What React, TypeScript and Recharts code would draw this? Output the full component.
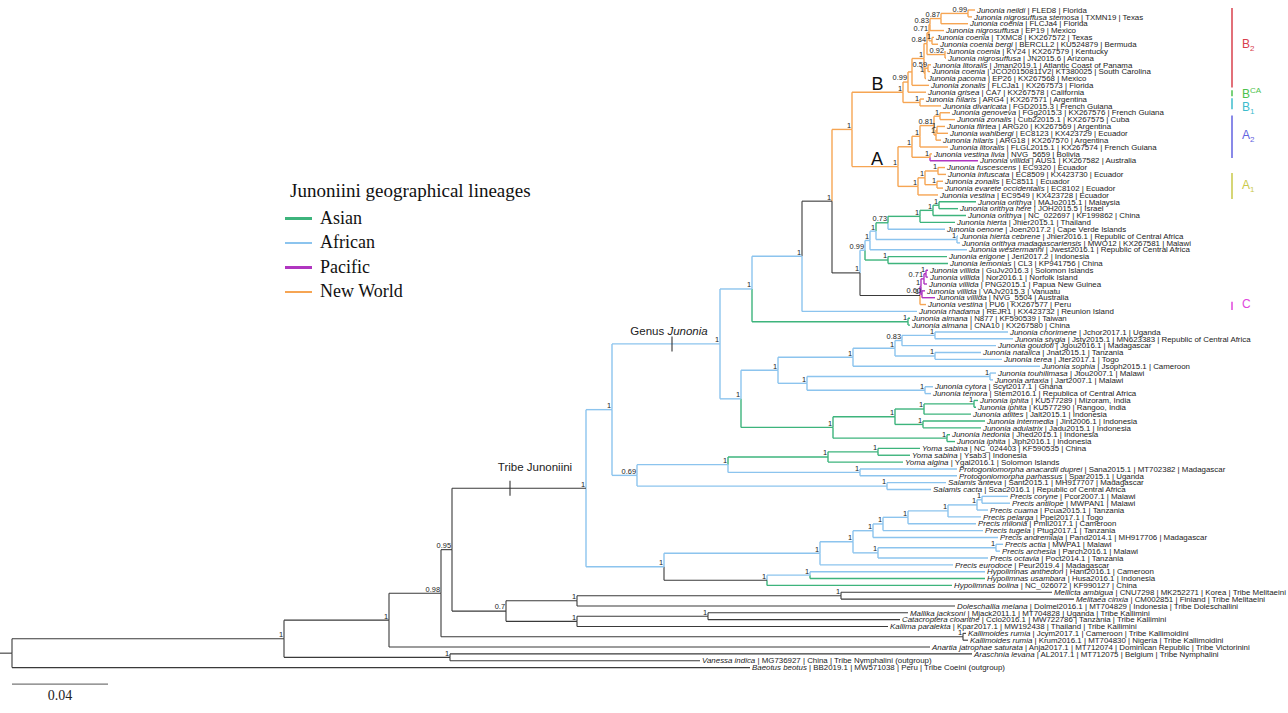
import React from "react";
import { ComposedChart, XAxis, YAxis, Scatter, ReferenceLine } from "recharts";

// tips, top to bottom
const tipSpecies = [
  "Junonia neildi", "Junonia nigrosuffusa stemosa", "Junonia coenia", "Junonia nigrosuffusa",
  "Junonia coenia", "Junonia coenia bergi", "Junonia coenia", "Junonia nigrosuffusa",
  "Junonia litoralis", "Junonia coenia", "Junonia pacoma", "Junonia zonalis",
  "Junonia grisea", "Junonia hilaris", "Junonia divaricata", "Junonia genoveva",
  "Junonia zonalis", "Junonia flirtea", "Junonia wahlbergi", "Junonia hilaris",
  "Junonia litoralis", "Junonia vestina livia", "Junonia villida", "Junonia fuscescens",
  "Junonia infuscata", "Junonia zonalis", "Junonia evarete occidentalis", "Junonia vestina",
  "Junonia orithya", "Junonia orithya here", "Junonia orithya", "Junonia hierta",
  "Junonia oenone", "Junonia hierta cebrene", "Junonia orithya madagascariensis", "Junonia westermanni",
  "Junonia erigone", "Junonia lemonias", "Junonia villida", "Junonia villida",
  "Junonia villida", "Junonia villida", "Junonia villida", "Junonia vestina",
  "Junonia rhadama", "Junonia almana", "Junonia almana", "Junonia chorimene",
  "Junonia stygia", "Junonia goudoti", "Junonia natalica", "Junonia terea",
  "Junonia sophia", "Junonia touhilimasa", "Junonia artaxia", "Junonia cytora",
  "Junonia temora", "Junonia iphita", "Junonia iphita", "Junonia atlites",
  "Junonia intermedia", "Junonia adulatrix", "Junonia hedonia", "Junonia iphita",
  "Yoma sabina", "Yoma sabina", "Yoma algina", "Protogoniomorpha anacardii duprei",
  "Protogoniomorpha parhassus", "Salamis anteva", "Salamis cacta", "Precis coryne",
  "Precis antilope", "Precis cuama", "Precis pelarga", "Precis milonia",
  "Precis tugela", "Precis andremiaja", "Precis actia", "Precis archesia",
  "Precis octavia", "Precis eurodoce", "Hypolimnas anthedon", "Hypolimnas usambara",
  "Hypolimnas bolina", "Mellicta ambigua", "Melitaea cinxia", "Doleschallia melana",
  "Mallika jacksoni", "Catacroptera cloanthe", "Kallima paralekta", "Kallimoides rumia",
  "Kallimoides rumia", "Anartia jatrophae saturata", "Araschnia levana", "Vanessa indica",
  "Baeotus beotus",
];

const tipInfo = [
  "FLED8 | Florida", "TXMN19 | Texas", "FLCJa4 | Florida", "EP19 | Mexico",
  "TXMC8 | KX267572 | Texas", "BERCLL2 | KU524879 | Bermuda", "KY24 | KX267579 | Kentucky", "JN2015.6 | Arizona",
  "Jman2019.1 | Atlantic Coast of Panama", "JCO20150811V2| KT380025 | South Carolina", "EP26 | KX267568 | Mexico", "FLCJa1 | KX267573 | Florida",
  "CA7 | KX267578 | California", "ARG4 | KX267571 | Argentina", "FGD2015.3 | French Guiana", "FGg2015.3 | KX267576 | French Guiana",
  "Cub22015.1 | KX267575 | Cuba", "ARG20 | KX267569 | Argentina", "EC8123 | KX423729 | Ecuador", "ARG18 | KX267570 | Argentina",
  "FLGL2015.1 | KX267574 | French Guiana", "NVG_5659 | Bolivia", "AUS1 | KX267582 | Australia", "EC9320 | Ecuador",
  "EC8509 | KX423730 | Ecuador", "EC8511 | Ecuador", "EC8102 | Ecuador", "EC9549 | KX423728 | Ecuador",
  "MAJo2015.1 | Malaysia", "JOH2015.5 | Israel", "NC_022697 | KF199862 | China", "Jhier2015.1 | Thailand",
  "Joen2017.2 | Cape Verde Islands", "Jhier2016.1 | Republic of Central Africa", "MWO12 | KX267581 | Malawi", "Jwest2016.1 | Republic of Central Africa",
  "Jeri2017.2 | Indonesia", "CL3 | KP941756 | China", "GuJv2016.3 | Solomon Islands", "Nor2016.1 | Norfolk Island",
  "PNG2015.1 | Papua New Guinea", "VAJv2015.3 | Vanuatu", "NVG_5504 | Australia", "PU6 | KX267577 | Peru",
  "REJR1 | KX423732 | Reunion Island", "N877 | KF590539 | Taiwan", "CNA10 | KX267580 | China", "Jchor2017.1 | Uganda",
  "Jsty2015.1 | MN623383 | Republic of Central Africa", "Jgou2016.1 | Madagascar", "Jnat2015.1 | Tanzania", "Jter2017.1 | Togo",
  "Jsoph2015.1 | Cameroon", "Jtou2007.1 | Malawi", "Jart2007.1 | Malawi", "Scyt2017.1 | Ghana",
  "Stem2016.1 | Republica of Central Africa", "KU577289 | Mizoram, India", "KU577290 | Rangoo, India", "Jalt2015.1 | Indonesia",
  "Jint2006.1 | Indonesia", "Jadu2015.1 | Indonesia", "Jhed2015.1 | Indonesia", "Jiph2016.1 | Indonesia",
  "NC_024403 | KF590535 | China", "Ysab3 | Indonesia", "Ygal2016.1 | Solomon Islands", "Sana2015.1 | MT702382 | Madagascar",
  "Spar2015.1 | Uganda", "Sant2015.1 | MH917707 | Madagascar", "Scac2016.1 | Republic of Central Africa", "Pcor2007.1 | Malawi",
  "MWPAN1 | Malawi", "Pcua2015.1 | Tanzania", "Ppel2017.1 | Togo", "Pmil2017.1 | Cameroon",
  "Ptug2017.1 | Tanzania", "Pand2014.1 | MH917706 | Madagascar", "MWPA1 | Malawi", "Parch2016.1 | Malawi",
  "Poct2014.1 | Tanzania", "Peur2019.4 | Madagascar", "Hant2016.1 | Cameroon", "Husa2016.1 | Indonesia",
  "NC_026072 | KF990127 | China", "CNU7298 | MK252271 | Korea | Tribe Melitaeini", "CM002851 | Finland | Tribe Melitaeini", "Dolmel2016.1 | MT704829 | Indonesia | Tribe Doleschallini",
  "Mjack2011.1 | MT704828 | Uganda | Tribe Kallimini", "Cclo2016.1 | MW722786 | Tanzania | Tribe Kallimini", "Kpar2017.1 | MW192438 | Thailand | Tribe Kallimini", "Jcym2017.1 | Cameroon | Tribe Kallimoidini",
  "Krum2016.1 | MT704830 | Nigeria | Tribe Kallimoidini", "Anja2017.1 | MT712074 | Dominican Republic | Tribe Victorinini", "AL2017.1 | MT712075 | Belgium | Tribe Nymphalini", "MG736927 | China | Tribe Nymphalini (outgroup)",
  "BB2019.1 | MW571038 | Peru | Tribe Coeini (outgroup)",
];

// depth of each tip (scale bar 0.04 = 96 units, root at 12)
const tipDepth = [
  975, 972, 968, 944, 934, 938, 945, 946, 931, 930, 926, 929, 926, 924, 941, 950,
  955, 945, 948, 941, 948, 932, 978, 945, 946, 943, 943, 938, 976, 958, 966, 955,
  945, 958, 960, 967, 947, 948, 928, 928, 927, 925, 935, 926, 917, 910, 910, 1008,
  1013, 996, 981, 1002, 1040, 996, 993, 933, 931, 978, 976, 971, 985, 981, 950, 955,
  920, 910, 903, 957, 957, 946, 931, 1008, 1010, 988, 981, 976, 983, 998, 1003, 1000,
  988, 953, 985, 985, 952, 1052, 1074, 955, 908, 900, 888, 966, 968, 930, 972, 700,
  750,
];

// O New World, B African, G Asian, P Pacific, K other
const tipLineage = (
  "OOOOOOOOOOOOOOOOOOOOOO" + "P" + "OOOOO" + "GGGG" + "BBBB" + "GG" + "PPPPP" + "O" + "B" + "GG" +
  "BBBBBBBBBB" + "GGGGGGGGGG" + "BBBBBBBBBBBBBBBB" + "GG" + "KKKKKKKKKKKK"
).split("");

// internal nodes: id, depth, support, lineage of stem, children (tip index or node id)
type Kid = number | string;
const nodes: [string, number, string, string, Kid[]][] = [
  ["ne", 968, "0.99", "O", [0, 1]],
  ["n087", 941, "0.87", "O", ["ne", 2]],
  ["n083", 930, "0.83", "O", ["n087", 3]],
  ["tx", 932, "1", "O", [4, 5]],
  ["n071", 929, "0.71", "O", ["n083", "tx"]],
  ["kn", 945, "0.92", "O", [6, 7]],
  ["n084", 927, "0.84", "O", ["n071", "kn"]],
  ["lit", 928, "0.59", "O", [8, 9]],
  ["n1a", 925, "1", "O", ["lit", 10]],
  ["n1b", 924, "1", "O", ["n084", "n1a"]],
  ["n1c", 912, "", "O", ["n1b", 11]],
  ["n099", 908, "0.99", "O", ["n1c", 12]],
  ["hd", 920, "1", "O", [13, 14]],
  ["B", 903, "1", "O", ["n099", "hd"]],
  ["gz", 940, "1", "O", [15, 16]],
  ["fw", 937, "1", "O", [17, 18]],
  ["fwh", 936, "1", "O", ["fw", 19]],
  ["n081", 934, "0.81", "O", ["gz", "fwh"]],
  ["a2b", 920, "1", "O", ["n081", 20]],
  ["vv", 930, "1", "O", [21, 22]],
  ["a2", 912, "1", "O", ["a2b", "vv"]],
  ["fi", 938, "1", "O", [23, 24]],
  ["ze", 937, "1", "O", [25, 26]],
  ["a1b", 925, "1", "O", ["fi", "ze"]],
  ["a1", 918, "1", "O", ["a1b", 27]],
  ["A", 898, "1", "O", ["a2", "a1"]],
  ["AB", 852, "1", "O", ["B", "A"]],
  ["or", 939, "1", "G", [28, 29]],
  ["or2", 933, "1", "G", ["or", 30]],
  ["or3", 920, "1", "G", ["or2", 31]],
  ["n073", 888, "0.73", "G", ["or3", 32]],
  ["hm", 957, "1", "B", [33, 34]],
  ["n876", 876, "1", "B", ["n073", "hm"]],
  ["n870", 870, "1", "B", ["n876", 35]],
  ["el", 888, "1", "G", [36, 37]],
  ["n099j", 865, "0.99", "B", ["n870", "el"]],
  ["v1", 926, "1", "P", [38, 39]],
  ["v2", 924, "0.71", "P", ["v1", 40]],
  ["v3", 922, "0.60", "P", [41, 42]],
  ["v4", 921, "1", "P", ["v2", "v3"]],
  ["vc", 920, "1", "K", ["v4", 43]],
  ["n860", 860, "1", "K", ["n099j", "vc"]],
  ["n832", 832, "1", "K", ["AB", "n860"]],
  ["n802", 802, "1", "B", ["n832", 44]],
  ["al", 908, "1", "G", [45, 46]],
  ["n750", 752, "1", "B", ["n802", "al"]],
  ["cs", 935, "1", "B", [47, 48]],
  ["g083", 902, "0.83", "B", ["cs", 49]],
  ["nt", 935, "1", "B", [50, 51]],
  ["g1", 895, "1", "B", ["g083", "nt"]],
  ["g2", 853, "1", "B", ["g1", 52]],
  ["ta", 990, "1", "B", [53, 54]],
  ["ct", 925, "1", "B", [55, 56]],
  ["tc", 807, "1", "B", ["ta", "ct"]],
  ["g3", 778, "1", "B", ["g2", "tc"]],
  ["ii", 974, "1", "G", [57, 58]],
  ["iia", 924, "1", "G", ["ii", 59]],
  ["ia", 923, "1", "G", [60, 61]],
  ["g4", 895, "1", "G", ["iia", "ia"]],
  ["hi", 947, "1", "G", [62, 63]],
  ["g5", 833, "1", "G", ["g4", "hi"]],
  ["n743", 741, "1", "B", ["g3", "g5"]],
  ["jun", 720, "1", "B", ["n750", "n743"]],
  ["ys", 878, "1", "G", [64, 65]],
  ["yo", 828, "1", "G", ["ys", 66]],
  ["pr", 860, "1", "B", [67, 68]],
  ["n728", 728, "1", "B", ["yo", "pr"]],
  ["sa", 887, "1", "B", [69, 70]],
  ["n069", 637, "0.69", "B", ["n728", "sa"]],
  ["n612", 612, "1", "B", ["jun", "n069"]],
  ["pa", 982, "1", "B", [71, 72]],
  ["pb", 977, "1", "B", ["pa", 73]],
  ["pc", 948, "1", "B", ["pb", 74]],
  ["pd", 908, "1", "B", ["pc", 75]],
  ["pe", 883, "1", "B", ["pd", 76]],
  ["pf", 873, "1", "B", ["pe", 77]],
  ["pi", 996, "1", "B", [78, 79]],
  ["ph", 878, "1", "B", ["pi", 80]],
  ["pg", 853, "1", "B", ["pf", "ph"]],
  ["pj", 820, "1", "B", ["pg", 81]],
  ["hy1", 810, "1", "B", [82, 83]],
  ["hy", 767, "1", "K", ["hy1", 84]],
  ["n664", 664, "1", "B", ["pj", "hy"]],
  ["tribe", 586, "1", "K", ["n612", "n664"]],
  ["mm", 841, "1", "K", [85, 86]],
  ["md", 577, "1", "K", ["mm", 87]],
  ["mc", 708, "1", "K", [88, 89]],
  ["mk", 577, "1", "K", ["mc", 90]],
  ["n07", 506, "0.7", "K", ["md", "mk"]],
  ["n095", 452, "0.95", "K", ["tribe", "n07"]],
  ["km", 963, "1", "K", [91, 92]],
  ["n098", 441, "0.98", "K", ["n095", "km"]],
  ["n389", 389, "1", "K", ["n098", 93]],
  ["va", 450, "1", "K", [94, 95]],
  ["n1", 284, "1", "K", ["n389", "va"]],
  ["root", 12, "", "K", ["n1", 96]],
];

const cladeNames = ["B2", "BCA", "B1", "A2", "A1", "C"];
const cladeFrom = [-0.3, 11.7, 12.9, 15.4, 23.8, 42.6];
const cladeTo = [11.3, 12.6, 14.5, 21.6, 27.6, 43.8];
const cladeLabelRow = [5.0, 12.2, 14.2, 18.2, 25.5, 42.9];
const cladeColors = ["#d8404c", "#4cc24c", "#3cbccc", "#6262e0", "#c9c948", "#e046dc"];

const legendNames = ["Asian", "African", "Pacific", "New World"];
const legendKeys = ["G", "B", "P", "O"];

const COLORS: Record<string, string> = {
  O: "#f6a553",
  B: "#8cc4ee",
  G: "#3db47c",
  P: "#b035c0",
  K: "#3a3a3a",
};

const W = 1288;
const H = 713;
const ROW = 6.85;
const TOP = 10;
const yDomain = [-TOP / ROW, (H - TOP) / ROW];
const SANS = "'Liberation Sans', Arial, sans-serif";
const SERIF = "'Liberation Serif', 'Times New Roman', serif";

// layout: node y = middle of first and last child
const info: Record<string, { x: number; y: number; sup: string; col: string; kids: Kid[] }> = {};
const kidY = (k: Kid) => (typeof k === "number" ? k : info[k].y);
const kidX = (k: Kid) => (typeof k === "number" ? tipDepth[k] : info[k].x);
const kidCol = (k: Kid) => (typeof k === "number" ? tipLineage[k] : info[k].col);
nodes.forEach(([id, x, sup, col, kids]) => {
  const ys = kids.map(kidY);
  info[id] = { x, y: (ys[0] + ys[ys.length - 1]) / 2, sup, col, kids };
});

const segments: { x1: number; y1: number; x2: number; y2: number; c: string }[] = [];
nodes.forEach(([id]) => {
  const n = info[id];
  n.kids.forEach((k) => {
    const c = COLORS[kidCol(k)];
    segments.push({ x1: n.x, y1: n.y, x2: n.x, y2: kidY(k), c });
    segments.push({ x1: n.x, y1: kidY(k), x2: kidX(k), y2: kidY(k), c });
  });
});
const root = info["root"];
segments.push({ x1: 0, y1: root.y, x2: root.x, y2: root.y, c: COLORS.K });

const tipPoints = tipSpecies.map((sp, i) => ({ x: tipDepth[i], y: i, sp, info: tipInfo[i] }));
const supPoints = nodes
  .filter(([, , sup]) => sup !== "")
  .map(([id]) => ({ x: info[id].x, y: info[id].y, sup: info[id].sup }));

// stem annotations
const stemMid = (id: string, parent: string) => (info[id].x + info[parent].x) / 2;
const annotations = [
  { x: stemMid("B", "AB"), y: info["B"].y, text: "B", kind: "big" },
  { x: stemMid("A", "AB") + 2, y: info["A"].y, text: "A", kind: "big" },
  { x: 669, y: info["jun"].y, text: "Genus", kind: "genus" },
  { x: 535, y: info["tribe"].y, text: "Tribe Junoniini", kind: "tribe" },
];
const ticks = [
  { x: 672, y: info["jun"].y },
  { x: 510, y: info["tribe"].y },
];

const cladePoints = cladeNames.map((name, i) => ({
  x: 1242,
  y: cladeLabelRow[i],
  name,
  color: cladeColors[i],
}));

const scaleRow = 98.4;

const TipLabel = (p: any) => (
  <text x={p.cx + 2} y={p.cy + 2.7} fontSize={7.9} fontFamily={SANS} fill="#222">
    <tspan fontStyle="italic">{p.payload.sp}</tspan>
    {" | " + p.payload.info}
  </text>
);

const SupLabel = (p: any) => (
  <text x={p.cx - 1} y={p.cy - 1.6} textAnchor="end" fontSize={7.4} fontFamily={SANS} fill="#222">
    {p.payload.sup}
  </text>
);

const AnnLabel = (p: any) => {
  const a = p.payload;
  if (a.kind === "big")
    return (
      <text x={p.cx} y={p.cy - 2} textAnchor="middle" fontSize={18} fontFamily={SANS} fill="#111">
        {a.text}
      </text>
    );
  if (a.kind === "genus")
    return (
      <text x={p.cx} y={p.cy - 9} textAnchor="middle" fontSize={11.5} fontFamily={SANS} fill="#222">
        Genus <tspan fontStyle="italic">Junonia</tspan>
      </text>
    );
  return (
    <text x={p.cx} y={p.cy - 17} textAnchor="middle" fontSize={11.5} fontFamily={SANS} fill="#222">
      {a.text}
    </text>
  );
};

const CladeLabel = (p: any) => {
  const d = p.payload;
  const base = d.name.charAt(0);
  const rest = d.name.slice(1);
  const sup = rest === "CA";
  return (
    <text x={p.cx} y={p.cy + 4} fontSize={12} fontFamily={SANS} fill={d.color}>
      {base}
      {rest && (
        <tspan fontSize={8} dy={sup ? -5 : 3}>
          {rest}
        </tspan>
      )}
    </text>
  );
};

const ScaleLabel = (p: any) => (
  <text x={p.cx} y={p.cy + 16} textAnchor="middle" fontSize={14} fontFamily={SERIF} fill="#222">
    0.04
  </text>
);

export default function App() {
  return (
    <div style={{ position: "absolute", left: 0, top: 0, width: W, height: H, background: "#fff" }}>
      <ComposedChart width={W} height={H} margin={{ top: 0, right: 0, bottom: 0, left: 0 }}>
        <XAxis type="number" dataKey="x" domain={[0, W]} allowDataOverflow hide />
        <YAxis type="number" dataKey="y" domain={yDomain} allowDataOverflow reversed hide />
        {segments.map((s, i) => (
          <ReferenceLine
            key={"s" + i}
            segment={[
              { x: s.x1, y: s.y1 },
              { x: s.x2, y: s.y2 },
            ]}
            stroke={s.c}
            strokeWidth={s.c === COLORS.K ? 1.1 : 1.4}
            ifOverflow="visible"
          />
        ))}
        {ticks.map((t, i) => (
          <ReferenceLine
            key={"t" + i}
            segment={[
              { x: t.x, y: t.y - 1.1 },
              { x: t.x, y: t.y + 1.1 },
            ]}
            stroke="#333"
            strokeWidth={1.1}
          />
        ))}
        {cladeNames.map((n, i) => (
          <ReferenceLine
            key={"c" + n}
            segment={[
              { x: 1232, y: cladeFrom[i] },
              { x: 1232, y: cladeTo[i] },
            ]}
            stroke={cladeColors[i]}
            strokeWidth={1.5}
          />
        ))}
        <ReferenceLine
          segment={[
            { x: 12, y: scaleRow },
            { x: 108, y: scaleRow },
          ]}
          stroke="#777"
          strokeWidth={1.3}
        />
        <Scatter data={tipPoints} shape={TipLabel} isAnimationActive={false} />
        <Scatter data={supPoints} shape={SupLabel} isAnimationActive={false} />
        <Scatter data={annotations} shape={AnnLabel} isAnimationActive={false} />
        <Scatter data={cladePoints} shape={CladeLabel} isAnimationActive={false} />
        <Scatter data={[{ x: 60, y: scaleRow }]} shape={ScaleLabel} isAnimationActive={false} />
      </ComposedChart>
      <div style={{ position: "absolute", left: 290, top: 180, fontFamily: SERIF, color: "#111" }}>
        <div style={{ fontSize: 19, marginBottom: 4 }}>Junoniini geographical lineages</div>
        {legendNames.map((n, i) => (
          <div key={n} style={{ display: "flex", alignItems: "center", height: 24.5, marginLeft: -5 }}>
            <div style={{ width: 27, height: 2.5, background: COLORS[legendKeys[i]], marginRight: 8 }} />
            <span style={{ fontSize: 18 }}>{n}</span>
          </div>
        ))}
      </div>
    </div>
  );
}
